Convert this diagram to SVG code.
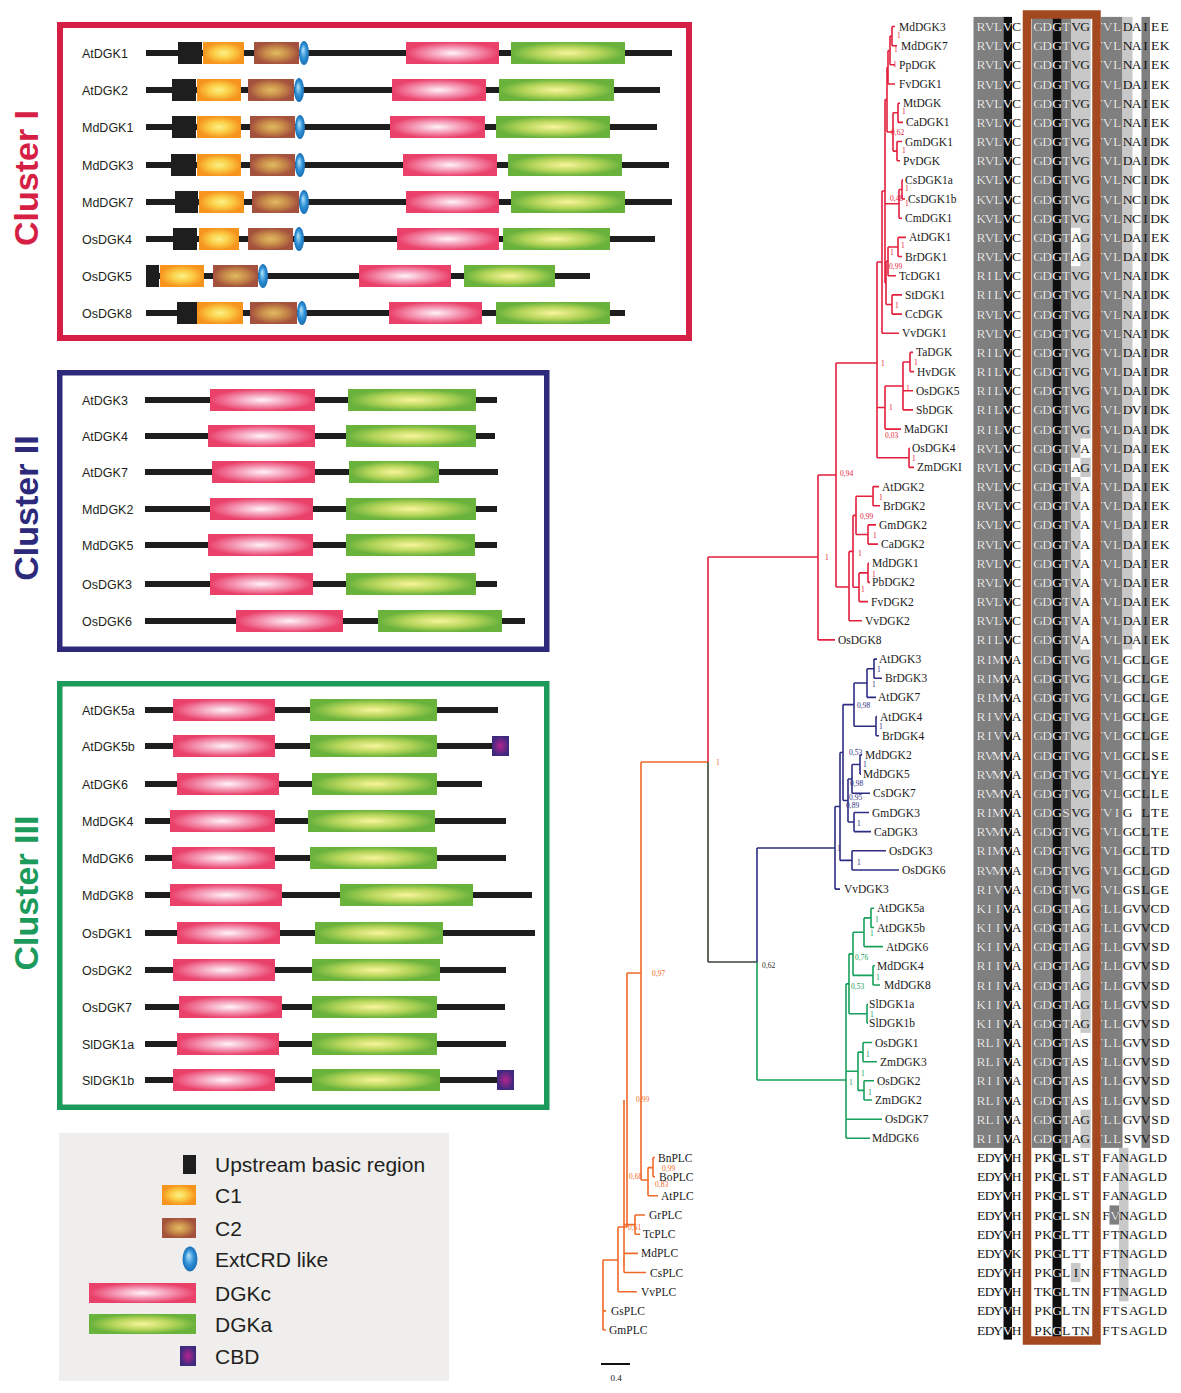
<svg xmlns="http://www.w3.org/2000/svg" width="1181" height="1393" viewBox="0 0 1181 1393">
<style>
.lb{font-family:"Liberation Sans","Open Sans",Arial,sans-serif;font-size:12.5px;fill:#231f20}
.bb{fill:#1e1e1e}
.ub{fill:#1e1e1e}
.c1{fill:url(#gC1)}
.c2{fill:url(#gC2)}
.dc{fill:url(#gDc)}
.da{fill:url(#gDa)}
.ex{fill:url(#gEx)}
.cb{fill:url(#gCb)}
.cl{font-family:"Liberation Sans",Arial,sans-serif;font-weight:bold;font-size:34px;text-anchor:middle}
.lg{font-family:"Liberation Sans",Arial,sans-serif;font-size:21px;fill:#231f20}
.tn{font-family:"Liberation Serif","Times New Roman",serif;font-size:11.5px;fill:#1a1a1a}
.sp{font-family:"Liberation Serif","Times New Roman",serif;font-size:7.5px}
.tr{fill:none;stroke-width:1.6}
.al{font-family:"Liberation Serif","Times New Roman",serif;font-size:13.5px;text-anchor:middle}
.dk{fill:#7f7f7f}
.bk{fill:#0d0d0d}
.lt{fill:#c8c8c8}
.wh{fill:#ffffff}
</style>
<defs>
<radialGradient id="gC1" cx=".5" cy=".5" r=".5"><stop offset="0" stop-color="#fbf188"/><stop offset=".45" stop-color="#fbd04a"/><stop offset="1" stop-color="#f6941d"/></radialGradient>
<radialGradient id="gC2" cx=".5" cy=".5" r=".5"><stop offset="0" stop-color="#e2bb62"/><stop offset=".5" stop-color="#c88c4a"/><stop offset="1" stop-color="#a4513d"/></radialGradient>
<radialGradient id="gDc" cx=".5" cy=".5" r=".5"><stop offset="0" stop-color="#fff4f8"/><stop offset=".5" stop-color="#f59ab6"/><stop offset="1" stop-color="#ea416b"/></radialGradient>
<radialGradient id="gDa" cx=".5" cy=".5" r=".5"><stop offset="0" stop-color="#f9f59c"/><stop offset=".55" stop-color="#b7d65a"/><stop offset="1" stop-color="#69b23c"/></radialGradient>
<radialGradient id="gEx" cx=".5" cy=".5" r=".5" fx=".4" fy=".35"><stop offset="0" stop-color="#b5e6fb"/><stop offset=".6" stop-color="#2d8fd5"/><stop offset="1" stop-color="#1b6fb5"/></radialGradient>
<radialGradient id="gCb" cx=".5" cy=".5" r=".5"><stop offset="0" stop-color="#b5238f"/><stop offset="1" stop-color="#3d2a7f"/></radialGradient>
<clipPath id="dkc">
<rect x="973.5" y="16.9" width="30" height="1131"/>
<rect x="1003.5" y="16.9" width="8.5" height="1322.7"/>
<rect x="1031.7" y="16.9" width="20.8" height="1131"/>
<rect x="1052.5" y="16.9" width="9" height="1322.7"/>
<rect x="1061.5" y="16.9" width="9.5" height="1131"/>
<rect x="1100.7" y="16.9" width="21.8" height="1131"/>
<rect x="1109.5" y="1205.4" width="9.5" height="19.2"/>
</clipPath>
</defs>
<rect width="1181" height="1393" fill="#ffffff"/>

<!-- Cluster labels -->
<text class="cl" fill="#d61f45" transform="translate(38,178) rotate(-90)">Cluster I</text>
<text class="cl" fill="#2d2a7b" transform="translate(38,508) rotate(-90)">Cluster II</text>
<text class="cl" fill="#1b9a5b" transform="translate(38,893) rotate(-90)">Cluster III</text>

<!-- Cluster I -->
<g id="cluster1">
<rect x="60" y="25" width="629" height="313" fill="none" stroke="#d61f45" stroke-width="6"/>
<g id="c1-AtDGK1"><text class="lb" x="82" y="57.5">AtDGK1</text><rect class="bb" x="146" y="50" width="526" height="6"/><rect class="ub" x="178" y="42" width="24" height="22"/><rect class="c1" x="203" y="42" width="41" height="22"/><rect class="c2" x="254" y="42" width="45" height="22"/><ellipse class="ex" cx="304" cy="53" rx="5" ry="12"/><rect class="dc" x="406" y="42" width="93" height="22"/><rect class="da" x="511" y="42" width="114" height="22"/></g>
<g id="c1-AtDGK2"><text class="lb" x="82" y="94.5">AtDGK2</text><rect class="bb" x="146" y="87" width="514" height="6"/><rect class="ub" x="172" y="79" width="24" height="22"/><rect class="c1" x="197" y="79" width="44" height="22"/><rect class="c2" x="248" y="79" width="46" height="22"/><ellipse class="ex" cx="299" cy="90" rx="5" ry="12"/><rect class="dc" x="392" y="79" width="94" height="22"/><rect class="da" x="499" y="79" width="115" height="22"/></g>
<g id="c1-MdDGK1"><text class="lb" x="82" y="131.5">MdDGK1</text><rect class="bb" x="146" y="124" width="511" height="6"/><rect class="ub" x="172" y="116" width="24" height="22"/><rect class="c1" x="197" y="116" width="44" height="22"/><rect class="c2" x="250" y="116" width="45" height="22"/><ellipse class="ex" cx="300" cy="127" rx="5" ry="12"/><rect class="dc" x="390" y="116" width="95" height="22"/><rect class="da" x="496" y="116" width="114" height="22"/></g>
<g id="c1-MdDGK3"><text class="lb" x="82" y="169.5">MdDGK3</text><rect class="bb" x="146" y="162" width="523" height="6"/><rect class="ub" x="171" y="154" width="25" height="22"/><rect class="c1" x="197" y="154" width="44" height="22"/><rect class="c2" x="250" y="154" width="45" height="22"/><ellipse class="ex" cx="300" cy="165" rx="5" ry="12"/><rect class="dc" x="403" y="154" width="94" height="22"/><rect class="da" x="508" y="154" width="114" height="22"/></g>
<g id="c1-MdDGK7"><text class="lb" x="82" y="206.5">MdDGK7</text><rect class="bb" x="146" y="199" width="526" height="6"/><rect class="ub" x="175" y="191" width="23" height="22"/><rect class="c1" x="199" y="191" width="45" height="22"/><rect class="c2" x="252" y="191" width="47" height="22"/><ellipse class="ex" cx="304" cy="202" rx="5" ry="12"/><rect class="dc" x="406" y="191" width="93" height="22"/><rect class="da" x="511" y="191" width="114" height="22"/></g>
<g id="c1-OsDGK4"><text class="lb" x="82" y="243.5">OsDGK4</text><rect class="bb" x="146" y="236" width="509" height="6"/><rect class="ub" x="173" y="228" width="24" height="22"/><rect class="c1" x="199" y="228" width="40" height="22"/><rect class="c2" x="248" y="228" width="45" height="22"/><ellipse class="ex" cx="299" cy="239" rx="5" ry="12"/><rect class="dc" x="397" y="228" width="102" height="22"/><rect class="da" x="503" y="228" width="107" height="22"/></g>
<g id="c1-OsDGK5"><text class="lb" x="82" y="280.5">OsDGK5</text><rect class="bb" x="146" y="273" width="444" height="6"/><rect class="ub" x="146" y="265" width="13" height="22"/><rect class="c1" x="160" y="265" width="44" height="22"/><rect class="c2" x="213" y="265" width="45" height="22"/><ellipse class="ex" cx="263" cy="276" rx="5" ry="12"/><rect class="dc" x="359" y="265" width="92" height="22"/><rect class="da" x="464" y="265" width="91" height="22"/></g>
<g id="c1-OsDGK8"><text class="lb" x="82" y="317.5">OsDGK8</text><rect class="bb" x="146" y="310" width="479" height="6"/><rect class="ub" x="177" y="302" width="20" height="22"/><rect class="c1" x="197" y="302" width="46" height="22"/><rect class="c2" x="250" y="302" width="47" height="22"/><ellipse class="ex" cx="302" cy="313" rx="5" ry="12"/><rect class="dc" x="389" y="302" width="93" height="22"/><rect class="da" x="496" y="302" width="114" height="22"/></g>
</g>

<!-- Cluster II -->
<g id="cluster2">
<rect x="59.75" y="372.75" width="487" height="276.5" fill="none" stroke="#2d2a7b" stroke-width="5.5"/>
<g id="c2-AtDGK3"><text class="lb" x="82" y="404.5">AtDGK3</text><rect class="bb" x="145" y="397" width="352" height="6"/><rect class="dc" x="210" y="389" width="105" height="22"/><rect class="da" x="348" y="389" width="128" height="22"/></g>
<g id="c2-AtDGK4"><text class="lb" x="82" y="440.5">AtDGK4</text><rect class="bb" x="145" y="433" width="350" height="6"/><rect class="dc" x="208" y="425" width="107" height="22"/><rect class="da" x="346" y="425" width="130" height="22"/></g>
<g id="c2-AtDGK7"><text class="lb" x="82" y="476.5">AtDGK7</text><rect class="bb" x="145" y="469" width="353" height="6"/><rect class="dc" x="212" y="461" width="103" height="22"/><rect class="da" x="349" y="461" width="90" height="22"/></g>
<g id="c2-MdDGK2"><text class="lb" x="82" y="513.5">MdDGK2</text><rect class="bb" x="145" y="506" width="352" height="6"/><rect class="dc" x="210" y="498" width="103" height="22"/><rect class="da" x="346" y="498" width="130" height="22"/></g>
<g id="c2-MdDGK5"><text class="lb" x="82" y="549.5">MdDGK5</text><rect class="bb" x="145" y="542" width="352" height="6"/><rect class="dc" x="208" y="534" width="105" height="22"/><rect class="da" x="346" y="534" width="129" height="22"/></g>
<g id="c2-OsDGK3"><text class="lb" x="82" y="588.5">OsDGK3</text><rect class="bb" x="145" y="581" width="352" height="6"/><rect class="dc" x="210" y="573" width="103" height="22"/><rect class="da" x="346" y="573" width="130" height="22"/></g>
<g id="c2-OsDGK6"><text class="lb" x="82" y="625.5">OsDGK6</text><rect class="bb" x="145" y="618" width="380" height="6"/><rect class="dc" x="236" y="610" width="107" height="22"/><rect class="da" x="378" y="610" width="124" height="22"/></g>
</g>

<!-- Cluster III -->
<g id="cluster3">
<rect x="59.75" y="683.75" width="487" height="423.5" fill="none" stroke="#1b9a5b" stroke-width="5.5"/>
<g id="c3-AtDGK5a"><text class="lb" x="82" y="714.5">AtDGK5a</text><rect class="bb" x="145" y="707" width="353" height="6"/><rect class="dc" x="173" y="699" width="102" height="22"/><rect class="da" x="310" y="699" width="127" height="22"/></g>
<g id="c3-AtDGK5b"><text class="lb" x="82" y="750.5">AtDGK5b</text><rect class="bb" x="145" y="743" width="347" height="6"/><rect class="dc" x="173" y="735" width="102" height="22"/><rect class="da" x="310" y="735" width="127" height="22"/><rect class="cb" x="492" y="736" width="17" height="20"/></g>
<g id="c3-AtDGK6"><text class="lb" x="82" y="788.5">AtDGK6</text><rect class="bb" x="145" y="781" width="337" height="6"/><rect class="dc" x="177" y="773" width="102" height="22"/><rect class="da" x="312" y="773" width="125" height="22"/></g>
<g id="c3-MdDGK4"><text class="lb" x="82" y="825.5">MdDGK4</text><rect class="bb" x="145" y="818" width="361" height="6"/><rect class="dc" x="170" y="810" width="105" height="22"/><rect class="da" x="308" y="810" width="127" height="22"/></g>
<g id="c3-MdDGK6"><text class="lb" x="82" y="862.5">MdDGK6</text><rect class="bb" x="145" y="855" width="361" height="6"/><rect class="dc" x="172" y="847" width="103" height="22"/><rect class="da" x="310" y="847" width="127" height="22"/></g>
<g id="c3-MdDGK8"><text class="lb" x="82" y="899.5">MdDGK8</text><rect class="bb" x="145" y="892" width="387" height="6"/><rect class="dc" x="170" y="884" width="112" height="22"/><rect class="da" x="340" y="884" width="133" height="22"/></g>
<g id="c3-OsDGK1"><text class="lb" x="82" y="937.5">OsDGK1</text><rect class="bb" x="145" y="930" width="390" height="6"/><rect class="dc" x="177" y="922" width="103" height="22"/><rect class="da" x="315" y="922" width="128" height="22"/></g>
<g id="c3-OsDGK2"><text class="lb" x="82" y="974.5">OsDGK2</text><rect class="bb" x="145" y="967" width="361" height="6"/><rect class="dc" x="173" y="959" width="102" height="22"/><rect class="da" x="312" y="959" width="128" height="22"/></g>
<g id="c3-OsDGK7"><text class="lb" x="82" y="1011.5">OsDGK7</text><rect class="bb" x="145" y="1004" width="360" height="6"/><rect class="dc" x="179" y="996" width="103" height="22"/><rect class="da" x="312" y="996" width="125" height="22"/></g>
<g id="c3-SlDGK1a"><text class="lb" x="82" y="1048.5">SlDGK1a</text><rect class="bb" x="145" y="1041" width="361" height="6"/><rect class="dc" x="177" y="1033" width="102" height="22"/><rect class="da" x="312" y="1033" width="125" height="22"/></g>
<g id="c3-SlDGK1b"><text class="lb" x="82" y="1084.5">SlDGK1b</text><rect class="bb" x="145" y="1077" width="352" height="6"/><rect class="dc" x="173" y="1069" width="102" height="22"/><rect class="da" x="312" y="1069" width="128" height="22"/><rect class="cb" x="497" y="1070" width="17" height="20"/></g>
</g>

<!-- Legend -->
<g id="legend">
<rect x="59" y="1133" width="390" height="248" fill="#efeeec"/>
<rect class="ub" x="183" y="1155" width="13" height="19"/><text class="lg" x="215" y="1171.5">Upstream basic region</text>
<rect class="c1" x="162" y="1185" width="34" height="20"/><text class="lg" x="215" y="1202.5">C1</text>
<rect class="c2" x="162" y="1218" width="34" height="20"/><text class="lg" x="215" y="1235.5">C2</text>
<ellipse class="ex" cx="190" cy="1259" rx="7.5" ry="12.5"/><text class="lg" x="215" y="1266.5">ExtCRD like</text>
<rect class="dc" x="89" y="1283" width="107" height="20"/><text class="lg" x="215" y="1300.5">DGKc</text>
<rect class="da" x="89" y="1314" width="107" height="20"/><text class="lg" x="215" y="1331.5">DGKa</text>
<rect class="cb" x="180" y="1346" width="16" height="20"/><text class="lg" x="215" y="1363.5">CBD</text>
</g>

<!-- Tree connectors -->
<g id="tree-connectors">
<path class="tr" stroke="#e3203d" d="M892 26.5V45.7M892 26.5H895M892 45.7H897M890 36.1V64.8M890 36.1H892M890 64.8H895M888 50.5V84M888 50.5H890M888 84H895M898 103.2V122.4M898 103.2H900M898 122.4H903M897 141.5V160.7M897 141.5H902M897 160.7H900M893 112.8V151.1M893 112.8H898M893 151.1H897M887 67.3V132M887 67.3H888M887 132H893M902 179.9V199M902 179.9H903M902 199H905M899 189.5V218.2M899 189.5H902M899 218.2H902M898 237.4V256.5M898 237.4H906M898 256.5H902M888 247V275.7M888 247H898M888 275.7H896M892 294.9V314.1M892 294.9H902M892 314.1H902M886 261.3V304.5M886 261.3H888M886 304.5H892M885 99.6V283M885 99.6H887M885 203.8H899M885 283H886M882 191V333.2M882 191H885M882 333.2H899M910 352.4V371.6M910 352.4H913M910 371.6H914M903 362V409.9M903 362H910M903 390.7H913M903 409.9H913M885 386V429.1M885 386H903M885 429.1H901M909 448.2V467.4M909 448.2H910M909 467.4H914M877 262V457.8M877 262H882M877 407.5H885M877 457.8H909M836 363V587M836 363H877M836 587H849M873 486.6V505.8M873 486.6H879M873 505.8H880M868 524.9V544.1M868 524.9H876M868 544.1H878M856 496.2V534.5M856 496.2H873M856 534.5H868M868 563.3V582.4M868 563.3H869M868 582.4H870M859 572.9V601.6M859 572.9H868M859 601.6H868M853 515.4V587.3M853 515.4H856M853 587.3H859M849 551.4V620.8M849 551.4H853M849 620.8H862M818 475V639.9M818 475H836M818 639.9H835M708 557H818M708 557V762"/>
<path class="tr" stroke="#f06a2a" d="M641 762H708M641 762V1180M641 1180H648M648 1167.6V1195.8M648 1167.6H653M648 1195.8H658M653 1157.5V1176.7M653 1157.5H655M653 1176.7H655M627 973H641M627 973V1227M624 1100V1272.5M624 1224.6H635M624 1253.4H638M624 1272.5H646M635 1215V1234.2M635 1215H645M635 1234.2H640M618 1227H627M618 1227V1291.7M618 1291.7H637M603 1260H618M603 1260V1330M603 1310.9H606M603 1330H606"/>
<path class="tr" stroke="#3a4438" d="M708 762V962M708 962H757"/>
<path class="tr" stroke="#2e2d83" d="M757 848H835M757 848V962M835 806.5V889.1M835 806.5H840M835 889.1H840M840 752.5V860.4M840 752.5H843M840 860.4H852M843 704.6V800.5M843 704.6H854M843 800.5H848M854 683V726.2M854 683H867M854 726.2H876M867 668.7V697.4M867 668.7H874M867 697.4H876M874 659.1V678.3M874 659.1H877M874 678.3H882M876 716.6V735.8M876 716.6H877M876 735.8H879M848 779V822M848 779H852M848 822H854M852 764.5V793.3M852 764.5H860M852 793.3H870M860 755V774.1M860 755H862M860 774.1H861M854 812.5V831.6M854 812.5H869M854 831.6H871M852 850.8V870M852 850.8H886M852 870H899"/>
<path class="tr" stroke="#16a05c" d="M757 962V1080M757 1080H846M846 983.9V1138.3M846 983.9H849M846 1071.3H858M846 1119.2H882M846 1138.3H870M849 953.9V1013.8M849 953.9H853M849 1013.8H867M853 932.3V975.4M853 932.3H864M853 975.4H873M864 917.9V946.6M864 917.9H871M864 946.6H883M871 908.3V927.5M871 908.3H874M871 927.5H874M873 965.8V985M873 965.8H875M873 985H880M867 1004.2V1023.3M867 1004.2H868M867 1023.3H868M858 1052.1V1090.4M858 1052.1H863M858 1090.4H864M863 1042.5V1061.7M863 1042.5H872M863 1061.7H877M864 1080.8V1100M864 1080.8H874M864 1100H872"/>
</g>

<!-- Support values -->
<g id="support-values">
<g class="sp" fill="#e3203d">
<text x="897" y="38">1</text><text x="894" y="52">1</text><text x="893" y="67">1</text>
<text x="902" y="114">1</text><text x="891" y="135">0,62</text><text x="902" y="153">1</text>
<text x="905" y="191">1</text><text x="890" y="201">0,48</text><text x="905" y="206">1</text>
<text x="901" y="248">1</text><text x="890" y="255">1</text><text x="889" y="269">0,99</text>
<text x="895" y="308">1</text>
<text x="914" y="365">1</text><text x="881" y="366">1</text><text x="906" y="391">1</text><text x="889" y="410">1</text><text x="885" y="438">0,03</text><text x="912" y="461">1</text>
<text x="840" y="476">0,94</text><text x="879" y="500">1</text><text x="860" y="519">0,99</text><text x="873" y="538">1</text><text x="858" y="556">1</text><text x="825" y="560">1</text><text x="872" y="577">1</text><text x="861" y="592">1</text>
</g>
<g class="sp" fill="#f06a2a">
<text x="716" y="765">1</text><text x="652" y="976">0,97</text><text x="636" y="1102">0,99</text><text x="629" y="1179">0,68</text><text x="662" y="1171">0,99</text><text x="655" y="1187">0,83</text><text x="628" y="1230">0,61</text><text x="622" y="1265">1</text>
</g>
<g class="sp" fill="#2c2c2c"><text x="762" y="968">0,62</text></g>
<g class="sp" fill="#2e2d83">
<text x="877" y="672">1</text><text x="872" y="687">1</text><text x="857" y="708">0,98</text><text x="879" y="729">1</text><text x="849" y="755">0,53</text><text x="863" y="767">1</text><text x="850" y="786">0,98</text><text x="849" y="800">0,95</text><text x="846" y="808">0,89</text><text x="857" y="826">1</text><text x="857" y="865">1</text><text x="837" y="851">1</text>
</g>
<g class="sp" fill="#16a05c">
<text x="875" y="922">1</text><text x="870" y="936">1</text><text x="855" y="960">0,76</text><text x="876" y="980">1</text><text x="851" y="989">0,53</text><text x="870" y="1017">1</text><text x="866" y="1057">1</text><text x="868" y="1095">1</text><text x="861" y="1076">1</text><text x="849" y="1085">1</text>
</g>
</g>

<!-- Tree tips -->
<g id="tree-tips" class="tn">
<text x="899" y="30.5">MdDGK3</text><text x="901" y="49.7">MdDGK7</text><text x="899" y="68.8">PpDGK</text><text x="899" y="88">FvDGK1</text>
<text x="903" y="107.2">MtDGK</text><text x="906" y="126.4">CaDGK1</text><text x="905" y="145.5">GmDGK1</text><text x="903" y="164.7">PvDGK</text>
<text x="905" y="183.9">CsDGK1a</text><text x="908" y="203">CsDGK1b</text><text x="905" y="222.2">CmDGK1</text><text x="909" y="241.4">AtDGK1</text>
<text x="905" y="260.5">BrDGK1</text><text x="899" y="279.7">TcDGK1</text><text x="905" y="298.9">StDGK1</text><text x="905" y="318.1">CcDGK</text>
<text x="902" y="337.2">VvDGK1</text><text x="916" y="356.4">TaDGK</text><text x="917" y="375.6">HvDGK</text><text x="916" y="394.7">OsDGK5</text>
<text x="916" y="413.9">SbDGK</text><text x="904" y="433.1">MaDGKI</text><text x="912" y="452.2">OsDGK4</text><text x="917" y="471.4">ZmDGKI</text>
<text x="882" y="490.6">AtDGK2</text><text x="883" y="509.8">BrDGK2</text><text x="879" y="528.9">GmDGK2</text><text x="881" y="548.1">CaDGK2</text>
<text x="872" y="567.3">MdDGK1</text><text x="872" y="586.4">PbDGK2</text><text x="871" y="605.6">FvDGK2</text><text x="865" y="624.8">VvDGK2</text>
<text x="838" y="643.9">OsDGK8</text>
<text x="879" y="663.1">AtDGK3</text><text x="885" y="682.3">BrDGK3</text><text x="878" y="701.4">AtDGK7</text><text x="880" y="720.6">AtDGK4</text>
<text x="882" y="739.8">BrDGK4</text><text x="865" y="759">MdDGK2</text><text x="863" y="778.1">MdDGK5</text><text x="873" y="797.3">CsDGK7</text>
<text x="872" y="816.5">GmDGK3</text><text x="874" y="835.6">CaDGK3</text><text x="889" y="854.8">OsDGK3</text><text x="902" y="874">OsDGK6</text>
<text x="844" y="893.1">VvDGK3</text>
<text x="877" y="912.3">AtDGK5a</text><text x="877" y="931.5">AtDGK5b</text><text x="886" y="950.6">AtDGK6</text><text x="877" y="969.8">MdDGK4</text>
<text x="884" y="989">MdDGK8</text><text x="869" y="1008.2">SlDGK1a</text><text x="869" y="1027.3">SlDGK1b</text><text x="875" y="1046.5">OsDGK1</text>
<text x="880" y="1065.7">ZmDGK3</text><text x="877" y="1084.8">OsDGK2</text><text x="875" y="1104">ZmDGK2</text><text x="885" y="1123.2">OsDGK7</text>
<text x="872" y="1142.3">MdDGK6</text>
<text x="658" y="1161.5">BnPLC</text><text x="659" y="1180.7">BoPLC</text><text x="661" y="1199.8">AtPLC</text><text x="649" y="1219">GrPLC</text>
<text x="643" y="1238.2">TcPLC</text><text x="641" y="1257.4">MdPLC</text><text x="650" y="1276.5">CsPLC</text><text x="641" y="1295.7">VvPLC</text>
<text x="611" y="1314.9">GsPLC</text><text x="609" y="1334">GmPLC</text>
</g>

<!-- Scale bar -->
<g id="scale-bar">
<line x1="601" y1="1364" x2="630" y2="1364" stroke="#111" stroke-width="2"/>
<text x="616" y="1381" font-family="Liberation Serif,serif" font-size="9" text-anchor="middle" fill="#111">0.4</text>
</g>

<!-- Alignment -->
<g id="alignment">
<g id="aln-bg">
<rect class="dk" x="973.5" y="16.9" width="30" height="1131"/>
<rect class="dk" x="1031.7" y="16.9" width="20.8" height="1131"/>
<rect class="dk" x="1061.5" y="16.9" width="9.5" height="1131"/>
<rect class="dk" x="1100.7" y="16.9" width="21.8" height="1131"/>
<rect class="dk" x="1141.5" y="16.9" width="8.5" height="1131"/>
<rect class="dk" x="1109.5" y="1205.4" width="9.5" height="19.2"/>
<rect class="bk" x="1003.5" y="16.9" width="8.5" height="1322.7"/>
<rect class="bk" x="1052.5" y="16.9" width="9" height="1322.7"/>
<rect class="lt" x="1071" y="16.9" width="19.7" height="1131"/>
<rect class="lt" x="1122.5" y="16.9" width="10" height="632.6"/>
<rect class="lt" x="1119" y="1147.9" width="9.5" height="153.4"/>
<rect class="lt" x="1071" y="1262.9" width="9.5" height="19.2"/>
<rect class="wh" x="1071" y="227.8" width="9.5" height="38.3"/>
<rect class="wh" x="1071" y="457.8" width="9.5" height="19.2"/>
<rect class="wh" x="1080.5" y="438.6" width="10.2" height="19.2"/>
<rect class="wh" x="1080.5" y="477" width="10.2" height="172.5"/>
<rect class="wh" x="1071" y="898.7" width="9.5" height="249.2"/>
<rect class="wh" x="1080.5" y="1032.9" width="10.2" height="76.7"/>
</g>
<g fill="#141414">
<g id="alnT" class="al">
<text y="31" x="981 989.5 998 1007.5 1016.5 1027 1038 1047 1057 1066 1076 1085 1093 1098 1107.5 1117 1127.5 1136.5 1145.5 1155 1164.5">RVLVC GDGTVG VVLDAIEE</text>
<text y="50.2" x="981 989.5 998 1007.5 1016.5 1027 1038 1047 1057 1066 1076 1085 1093 1098 1107.5 1117 1127.5 1136.5 1145.5 1155 1164.5">RVLVC GDGTVG VVLNAIEK</text>
<text y="69.3" x="981 989.5 998 1007.5 1016.5 1027 1038 1047 1057 1066 1076 1085 1093 1098 1107.5 1117 1127.5 1136.5 1145.5 1155 1164.5">RVLVC GDGTVG VVLNAIEK</text>
<text y="88.5" x="981 989.5 998 1007.5 1016.5 1027 1038 1047 1057 1066 1076 1085 1093 1098 1107.5 1117 1127.5 1136.5 1145.5 1155 1164.5">RVLVC GDGTVG VVLDAIEK</text>
<text y="107.7" x="981 989.5 998 1007.5 1016.5 1027 1038 1047 1057 1066 1076 1085 1093 1098 1107.5 1117 1127.5 1136.5 1145.5 1155 1164.5">RVLVC GDGTVG VVLNAIEK</text>
<text y="126.9" x="981 989.5 998 1007.5 1016.5 1027 1038 1047 1057 1066 1076 1085 1093 1098 1107.5 1117 1127.5 1136.5 1145.5 1155 1164.5">RVLVC GDGTVG VVLNAIEK</text>
<text y="146" x="981 989.5 998 1007.5 1016.5 1027 1038 1047 1057 1066 1076 1085 1093 1098 1107.5 1117 1127.5 1136.5 1145.5 1155 1164.5">RVLVC GDGTVG VVLNAIDK</text>
<text y="165.2" x="981 989.5 998 1007.5 1016.5 1027 1038 1047 1057 1066 1076 1085 1093 1098 1107.5 1117 1127.5 1136.5 1145.5 1155 1164.5">RVLVC GDGTVG VVLDAIDK</text>
<text y="184.4" x="981 989.5 998 1007.5 1016.5 1027 1038 1047 1057 1066 1076 1085 1093 1098 1107.5 1117 1127.5 1136.5 1145.5 1155 1164.5">KVLVC GDGTVG VVLNCIDK</text>
<text y="203.5" x="981 989.5 998 1007.5 1016.5 1027 1038 1047 1057 1066 1076 1085 1093 1098 1107.5 1117 1127.5 1136.5 1145.5 1155 1164.5">KVLVC GDGTVG VVLNCIDK</text>
<text y="222.7" x="981 989.5 998 1007.5 1016.5 1027 1038 1047 1057 1066 1076 1085 1093 1098 1107.5 1117 1127.5 1136.5 1145.5 1155 1164.5">KVLVC GDGTVG VVLNCIDK</text>
<text y="241.9" x="981 989.5 998 1007.5 1016.5 1027 1038 1047 1057 1066 1076 1085 1093 1098 1107.5 1117 1127.5 1136.5 1145.5 1155 1164.5">RVLVC GDGTAG VVLDAIEK</text>
<text y="261" x="981 989.5 998 1007.5 1016.5 1027 1038 1047 1057 1066 1076 1085 1093 1098 1107.5 1117 1127.5 1136.5 1145.5 1155 1164.5">RVLVC GDGTAG VVLDAIDK</text>
<text y="280.2" x="981 989.5 998 1007.5 1016.5 1027 1038 1047 1057 1066 1076 1085 1093 1098 1107.5 1117 1127.5 1136.5 1145.5 1155 1164.5">RILVC GDGTVG VVLNAIDK</text>
<text y="299.4" x="981 989.5 998 1007.5 1016.5 1027 1038 1047 1057 1066 1076 1085 1093 1098 1107.5 1117 1127.5 1136.5 1145.5 1155 1164.5">RILVC GDGTVG VVLNAIDK</text>
<text y="318.6" x="981 989.5 998 1007.5 1016.5 1027 1038 1047 1057 1066 1076 1085 1093 1098 1107.5 1117 1127.5 1136.5 1145.5 1155 1164.5">RVLVC GDGTVG VVLNAIDK</text>
<text y="337.7" x="981 989.5 998 1007.5 1016.5 1027 1038 1047 1057 1066 1076 1085 1093 1098 1107.5 1117 1127.5 1136.5 1145.5 1155 1164.5">RVLVC GDGTVG VVLNAIDK</text>
<text y="356.9" x="981 989.5 998 1007.5 1016.5 1027 1038 1047 1057 1066 1076 1085 1093 1098 1107.5 1117 1127.5 1136.5 1145.5 1155 1164.5">RILVC GDGTVG VVLDAIDR</text>
<text y="376.1" x="981 989.5 998 1007.5 1016.5 1027 1038 1047 1057 1066 1076 1085 1093 1098 1107.5 1117 1127.5 1136.5 1145.5 1155 1164.5">RILVC GDGTVG VVLDAIDR</text>
<text y="395.2" x="981 989.5 998 1007.5 1016.5 1027 1038 1047 1057 1066 1076 1085 1093 1098 1107.5 1117 1127.5 1136.5 1145.5 1155 1164.5">RILVC GDGTVG VVLDAIDK</text>
<text y="414.4" x="981 989.5 998 1007.5 1016.5 1027 1038 1047 1057 1066 1076 1085 1093 1098 1107.5 1117 1127.5 1136.5 1145.5 1155 1164.5">RILVC GDGTVG VVLDVIDK</text>
<text y="433.6" x="981 989.5 998 1007.5 1016.5 1027 1038 1047 1057 1066 1076 1085 1093 1098 1107.5 1117 1127.5 1136.5 1145.5 1155 1164.5">RILVC GDGTVG VVLDAIDK</text>
<text y="452.7" x="981 989.5 998 1007.5 1016.5 1027 1038 1047 1057 1066 1076 1085 1093 1098 1107.5 1117 1127.5 1136.5 1145.5 1155 1164.5">RVLVC GDGTVA VVLDAIEK</text>
<text y="471.9" x="981 989.5 998 1007.5 1016.5 1027 1038 1047 1057 1066 1076 1085 1093 1098 1107.5 1117 1127.5 1136.5 1145.5 1155 1164.5">RVLVC GDGTAG VVLDAIEK</text>
<text y="491.1" x="981 989.5 998 1007.5 1016.5 1027 1038 1047 1057 1066 1076 1085 1093 1098 1107.5 1117 1127.5 1136.5 1145.5 1155 1164.5">RVLVC GDGTVA VVLDAIEK</text>
<text y="510.3" x="981 989.5 998 1007.5 1016.5 1027 1038 1047 1057 1066 1076 1085 1093 1098 1107.5 1117 1127.5 1136.5 1145.5 1155 1164.5">RVLVC GDGTVA VVLDAIEK</text>
<text y="529.4" x="981 989.5 998 1007.5 1016.5 1027 1038 1047 1057 1066 1076 1085 1093 1098 1107.5 1117 1127.5 1136.5 1145.5 1155 1164.5">KVLVC GDGTVA VVLDAIER</text>
<text y="548.6" x="981 989.5 998 1007.5 1016.5 1027 1038 1047 1057 1066 1076 1085 1093 1098 1107.5 1117 1127.5 1136.5 1145.5 1155 1164.5">RVLVC GDGTVA VVLDAIEK</text>
<text y="567.8" x="981 989.5 998 1007.5 1016.5 1027 1038 1047 1057 1066 1076 1085 1093 1098 1107.5 1117 1127.5 1136.5 1145.5 1155 1164.5">RVLVC GDGTVA VVLDAIER</text>
<text y="586.9" x="981 989.5 998 1007.5 1016.5 1027 1038 1047 1057 1066 1076 1085 1093 1098 1107.5 1117 1127.5 1136.5 1145.5 1155 1164.5">RVLVC GDGTVA VVLDAIER</text>
<text y="606.1" x="981 989.5 998 1007.5 1016.5 1027 1038 1047 1057 1066 1076 1085 1093 1098 1107.5 1117 1127.5 1136.5 1145.5 1155 1164.5">RVLVC GDGTVA VVLDAIEK</text>
<text y="625.3" x="981 989.5 998 1007.5 1016.5 1027 1038 1047 1057 1066 1076 1085 1093 1098 1107.5 1117 1127.5 1136.5 1145.5 1155 1164.5">RVLVC GDGTVA VVLDAIER</text>
<text y="644.4" x="981 989.5 998 1007.5 1016.5 1027 1038 1047 1057 1066 1076 1085 1093 1098 1107.5 1117 1127.5 1136.5 1145.5 1155 1164.5">RILVC GDGTVA VVLDAIEK</text>
<text y="663.6" x="981 989.5 998 1007.5 1016.5 1027 1038 1047 1057 1066 1076 1085 1093 1098 1107.5 1117 1127.5 1136.5 1145.5 1155 1164.5">RIMVA GDGTVG VVLGCLGE</text>
<text y="682.8" x="981 989.5 998 1007.5 1016.5 1027 1038 1047 1057 1066 1076 1085 1093 1098 1107.5 1117 1127.5 1136.5 1145.5 1155 1164.5">RIMVA GDGTVG VVLGCLGE</text>
<text y="701.9" x="981 989.5 998 1007.5 1016.5 1027 1038 1047 1057 1066 1076 1085 1093 1098 1107.5 1117 1127.5 1136.5 1145.5 1155 1164.5">RIMVA GDGTVG VVLGCLGE</text>
<text y="721.1" x="981 989.5 998 1007.5 1016.5 1027 1038 1047 1057 1066 1076 1085 1093 1098 1107.5 1117 1127.5 1136.5 1145.5 1155 1164.5">RIVVA GDGTVG VVLGCLGE</text>
<text y="740.3" x="981 989.5 998 1007.5 1016.5 1027 1038 1047 1057 1066 1076 1085 1093 1098 1107.5 1117 1127.5 1136.5 1145.5 1155 1164.5">RIVVA GDGTVG VVLGCLGE</text>
<text y="759.5" x="981 989.5 998 1007.5 1016.5 1027 1038 1047 1057 1066 1076 1085 1093 1098 1107.5 1117 1127.5 1136.5 1145.5 1155 1164.5">RVMVA GDGTVG VVLGCLSE</text>
<text y="778.6" x="981 989.5 998 1007.5 1016.5 1027 1038 1047 1057 1066 1076 1085 1093 1098 1107.5 1117 1127.5 1136.5 1145.5 1155 1164.5">RVMVA GDGTVG VVLGCLYE</text>
<text y="797.8" x="981 989.5 998 1007.5 1016.5 1027 1038 1047 1057 1066 1076 1085 1093 1098 1107.5 1117 1127.5 1136.5 1145.5 1155 1164.5">RVMVA GDGTVG VVLGCLLE</text>
<text y="817" x="981 989.5 998 1007.5 1016.5 1027 1038 1047 1057 1066 1076 1085 1093 1098 1107.5 1117 1127.5 1136.5 1145.5 1155 1164.5">RIMVA GDGSVG VVIG LTE</text>
<text y="836.1" x="981 989.5 998 1007.5 1016.5 1027 1038 1047 1057 1066 1076 1085 1093 1098 1107.5 1117 1127.5 1136.5 1145.5 1155 1164.5">RVMVA GDGTVG VVLGCLTE</text>
<text y="855.3" x="981 989.5 998 1007.5 1016.5 1027 1038 1047 1057 1066 1076 1085 1093 1098 1107.5 1117 1127.5 1136.5 1145.5 1155 1164.5">RIMVA GDGTVG VVLGCLTD</text>
<text y="874.5" x="981 989.5 998 1007.5 1016.5 1027 1038 1047 1057 1066 1076 1085 1093 1098 1107.5 1117 1127.5 1136.5 1145.5 1155 1164.5">RVMVA GDGTVG VVLGCLGD</text>
<text y="893.6" x="981 989.5 998 1007.5 1016.5 1027 1038 1047 1057 1066 1076 1085 1093 1098 1107.5 1117 1127.5 1136.5 1145.5 1155 1164.5">RIVVA GDGTVG VVLGSLGE</text>
<text y="912.8" x="981 989.5 998 1007.5 1016.5 1027 1038 1047 1057 1066 1076 1085 1093 1098 1107.5 1117 1127.5 1136.5 1145.5 1155 1164.5">KIIVA GDGTAG VLLGVVCD</text>
<text y="932" x="981 989.5 998 1007.5 1016.5 1027 1038 1047 1057 1066 1076 1085 1093 1098 1107.5 1117 1127.5 1136.5 1145.5 1155 1164.5">KIIVA GDGTAG VLLGVVCD</text>
<text y="951.1" x="981 989.5 998 1007.5 1016.5 1027 1038 1047 1057 1066 1076 1085 1093 1098 1107.5 1117 1127.5 1136.5 1145.5 1155 1164.5">KIIVA GDGTAG VLLGVVSD</text>
<text y="970.3" x="981 989.5 998 1007.5 1016.5 1027 1038 1047 1057 1066 1076 1085 1093 1098 1107.5 1117 1127.5 1136.5 1145.5 1155 1164.5">RIIVA GDGTAG VLLGVVSD</text>
<text y="989.5" x="981 989.5 998 1007.5 1016.5 1027 1038 1047 1057 1066 1076 1085 1093 1098 1107.5 1117 1127.5 1136.5 1145.5 1155 1164.5">RIIVA GDGTAG VLLGVVSD</text>
<text y="1008.7" x="981 989.5 998 1007.5 1016.5 1027 1038 1047 1057 1066 1076 1085 1093 1098 1107.5 1117 1127.5 1136.5 1145.5 1155 1164.5">KIIVA GDGTAG VLLGVVSD</text>
<text y="1027.8" x="981 989.5 998 1007.5 1016.5 1027 1038 1047 1057 1066 1076 1085 1093 1098 1107.5 1117 1127.5 1136.5 1145.5 1155 1164.5">KIIVA GDGTAG VLLGVVSD</text>
<text y="1047" x="981 989.5 998 1007.5 1016.5 1027 1038 1047 1057 1066 1076 1085 1093 1098 1107.5 1117 1127.5 1136.5 1145.5 1155 1164.5">RLIVA GDGTAS VLLGVVSD</text>
<text y="1066.2" x="981 989.5 998 1007.5 1016.5 1027 1038 1047 1057 1066 1076 1085 1093 1098 1107.5 1117 1127.5 1136.5 1145.5 1155 1164.5">RLIVA GDGTAS VLLGVVSD</text>
<text y="1085.3" x="981 989.5 998 1007.5 1016.5 1027 1038 1047 1057 1066 1076 1085 1093 1098 1107.5 1117 1127.5 1136.5 1145.5 1155 1164.5">RIIVA GDGTAS VLLGVVSD</text>
<text y="1104.5" x="981 989.5 998 1007.5 1016.5 1027 1038 1047 1057 1066 1076 1085 1093 1098 1107.5 1117 1127.5 1136.5 1145.5 1155 1164.5">RLIVA GDGTAS VLLGVVSD</text>
<text y="1123.7" x="981 989.5 998 1007.5 1016.5 1027 1038 1047 1057 1066 1076 1085 1093 1098 1107.5 1117 1127.5 1136.5 1145.5 1155 1164.5">RLIVA GDGTAG VLLGVVSD</text>
<text y="1142.8" x="981 989.5 998 1007.5 1016.5 1027 1038 1047 1057 1066 1076 1085 1093 1098 1107.5 1117 1127.5 1136.5 1145.5 1155 1164.5">RIIVA GDGTAG VLLSVVSD</text>
<text y="1162" x="981 989.5 998 1007.5 1016.5 1027 1038 1047 1057 1066 1076 1085 1095 1106 1115 1124 1133.5 1143 1152.5 1162">EDYVH PKGLST FANAGLD</text>
<text y="1181.2" x="981 989.5 998 1007.5 1016.5 1027 1038 1047 1057 1066 1076 1085 1095 1106 1115 1124 1133.5 1143 1152.5 1162">EDYVH PKGLST FANAGLD</text>
<text y="1200.3" x="981 989.5 998 1007.5 1016.5 1027 1038 1047 1057 1066 1076 1085 1095 1106 1115 1124 1133.5 1143 1152.5 1162">EDYVH PKGLST FANAGLD</text>
<text y="1219.5" x="981 989.5 998 1007.5 1016.5 1027 1038 1047 1057 1066 1076 1085 1095 1106 1115 1124 1133.5 1143 1152.5 1162">EDYVH PKGLSN FVNAGLD</text>
<text y="1238.7" x="981 989.5 998 1007.5 1016.5 1027 1038 1047 1057 1066 1076 1085 1095 1106 1115 1124 1133.5 1143 1152.5 1162">EDYVH PKGLTT FTNAGLD</text>
<text y="1257.9" x="981 989.5 998 1007.5 1016.5 1027 1038 1047 1057 1066 1076 1085 1095 1106 1115 1124 1133.5 1143 1152.5 1162">EDYVK PKGLTT FTNAGLD</text>
<text y="1277" x="981 989.5 998 1007.5 1016.5 1027 1038 1047 1057 1066 1076 1085 1095 1106 1115 1124 1133.5 1143 1152.5 1162">EDYVH PKGLIN FTNAGLD</text>
<text y="1296.2" x="981 989.5 998 1007.5 1016.5 1027 1038 1047 1057 1066 1076 1085 1095 1106 1115 1124 1133.5 1143 1152.5 1162">EDYVH TKGLTN FTNAGLD</text>
<text y="1315.4" x="981 989.5 998 1007.5 1016.5 1027 1038 1047 1057 1066 1076 1085 1095 1106 1115 1124 1133.5 1143 1152.5 1162">EDYVH PKGLTN FTSAGLD</text>
<text y="1334.5" x="981 989.5 998 1007.5 1016.5 1027 1038 1047 1057 1066 1076 1085 1095 1106 1115 1124 1133.5 1143 1152.5 1162">EDYVH PKGLTN FTSAGLD</text>
</g>
</g>
<use href="#alnT" fill="#f2f2f2" clip-path="url(#dkc)"/>
<rect id="motif-box" x="1027" y="14.5" width="69.5" height="1326" fill="none" stroke="#a3481f" stroke-width="8.5"/>
</g>
</svg>
